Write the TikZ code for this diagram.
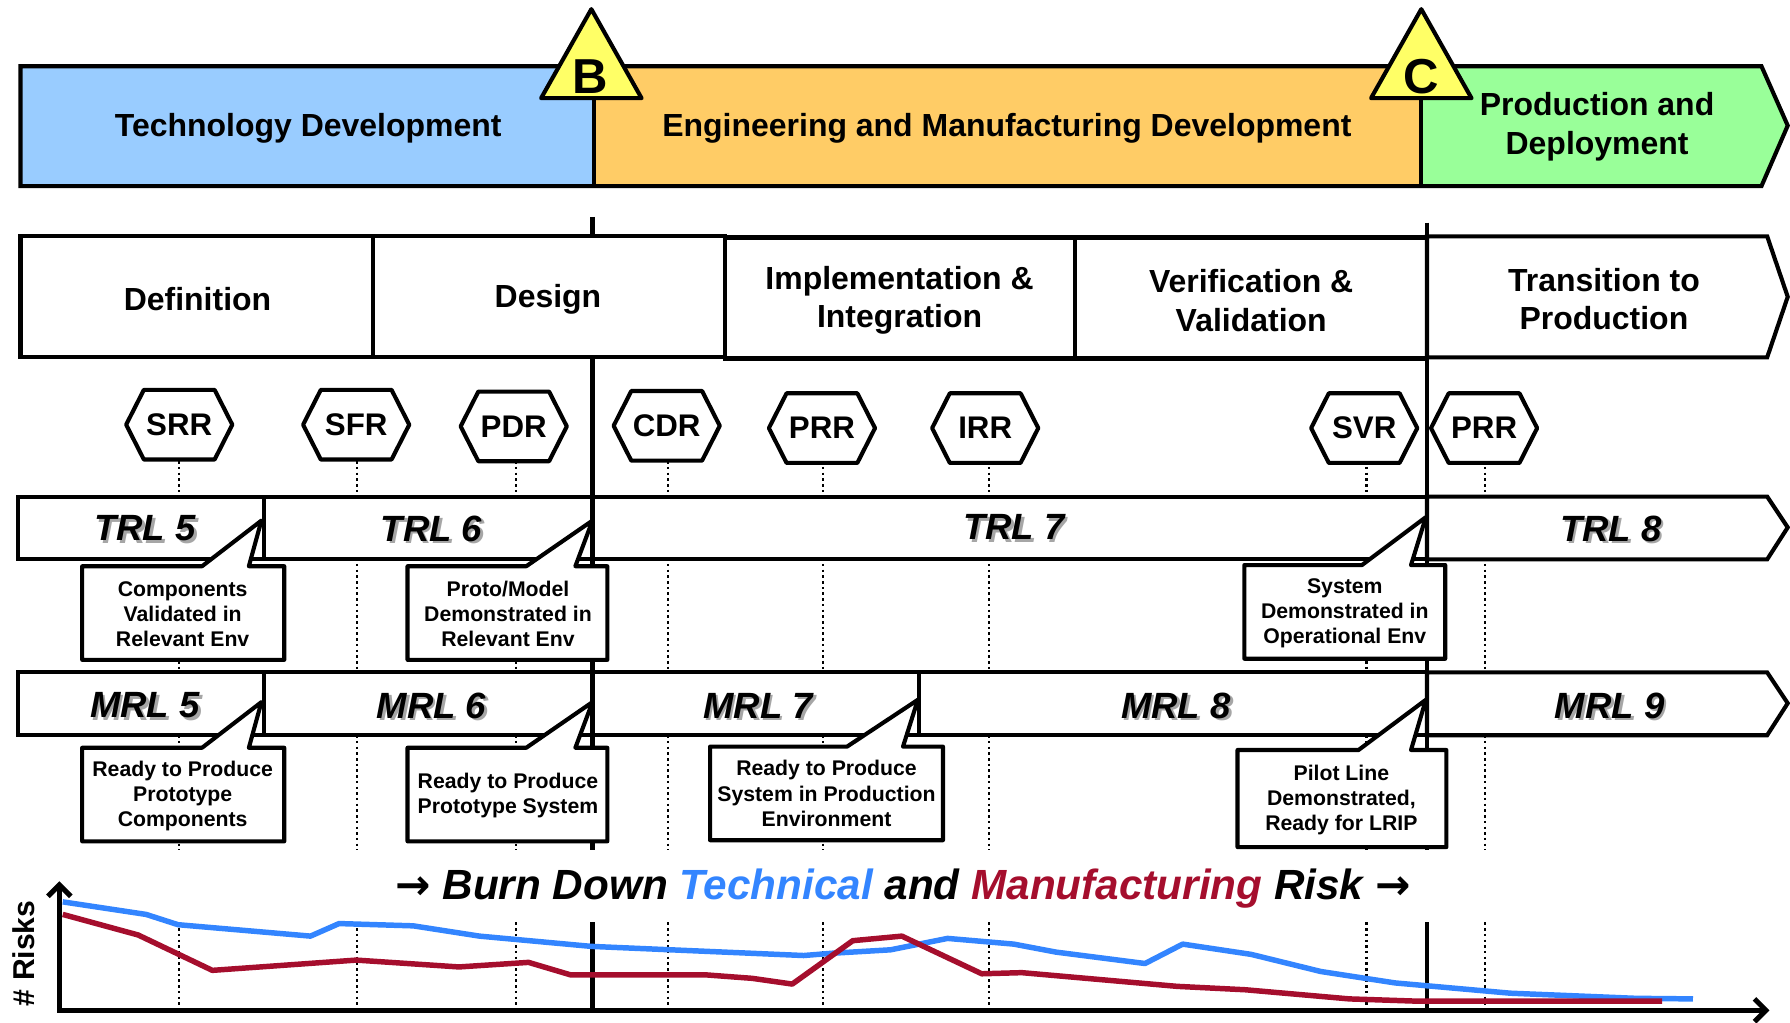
\documentclass[tikz,border=0pt]{standalone}
\usepackage{fontspec}
\setmainfont{Liberation Sans}
\newfontfamily\arrowfont{DejaVu Sans}
\usetikzlibrary{arrows.meta}
\definecolor{tdblue}{HTML}{99CCFF}
\definecolor{emdorange}{HTML}{FFCC66}
\definecolor{pdgreen}{HTML}{99FF99}
\definecolor{msyellow}{HTML}{FFFF66}
\definecolor{techblue}{HTML}{3385FF}
\definecolor{manred}{HTML}{A50E2D}
\newcommand{\hexnode}[4]{%
  \draw[hexa] ({#2-46.5},#3) -- ({#2-31},{#3-30.5}) -- ({#2+31},{#3-30.5}) -- ({#2+46.5},#3) -- ({#2+31},{#3+30.5}) -- ({#2-31},{#3+30.5}) -- cycle;
  \node[hexlabel] (#1) at (#2,#3) {#4};}
\newcommand{\calloutshape}[8]{%
  \draw[box,fill=white,line join=round] (#1,#2) -- (#5,#2) -- (#7,#8) -- (#6,#2) -- (#3,#2) -- (#3,#4) -- (#1,#4) -- cycle;}
\newcommand{\lvlabel}[4]{%
  \node[lvltext,text=black!35,xshift=1.2pt,yshift=-1.2pt] (#1s) at (#2,#3) {#4};
  \node[lvltext] (#1) at (#2,#3) {#4};}
\begin{document}
\begin{tikzpicture}[x=0.5pt,y=-0.5pt,
 box/.style={draw=black,line width=1.8pt},
 hexa/.style={draw=black,line width=1.8pt,fill=white,line join=round},
 bartext/.style={font=\bfseries\fontsize{14}{17}\selectfont,align=center,inner sep=0pt},
 hexlabel/.style={font=\bfseries\fontsize{13.7}{16}\selectfont,inner sep=0pt},
 lvltext/.style={font=\bfseries\itshape\fontsize{16}{19}\selectfont,inner sep=0pt},
 calltext/.style={font=\bfseries\fontsize{9.3}{11}\selectfont,align=center,inner sep=0pt},
 mslabel/.style={font=\bfseries\fontsize{21.5}{24}\selectfont,inner sep=0pt,anchor=base},
 dotline/.style={line width=0.9pt,dash pattern=on 1.1pt off 1.4pt},
 sepline/.style={line width=1.8pt},
 axis/.style={line width=2.2pt},
 techline/.style={techblue,line width=2.4pt,line join=round},
 manline/.style={manred,line width=2.4pt,line join=round},
 ]
\useasboundingbox (0,0) rectangle (1568,896);
% ---- top bar
\fill[tdblue] (18,58) rectangle (520,163);
\fill[emdorange] (520,58) rectangle (1245,163);
\fill[pdgreen] (1245,58) -- (1543,58) -- (1566,110) -- (1543,163) -- (1245,163) -- cycle;
\draw[box] (18,58) -- (1543,58) -- (1566,110) -- (1543,163) -- (18,163) -- cycle;
\draw[box] (520,58) -- (520,163);
\draw[box] (1245,58) -- (1245,163);
\draw[box,fill=msyellow,line join=round] (518,8) -- (562,86) -- (474,86) -- cycle;
\draw[box,fill=msyellow,line join=round] (1245,8) -- (1289,86) -- (1201,86) -- cycle;
\node[mslabel] (msb) at (517,82) {B};
\node[mslabel] (msc) at (1245,82) {C};
\node[bartext] (td) at (270,112) {Technology Development};
\node[bartext] (emd) at (882,112) {Engineering and Manufacturing Development};
\node[bartext] (pd) at (1399,111) {Production and\\Deployment};
% ---- dotted milestone lines
\foreach \x in {157,313,452,585,721,866,1197,1301}{
  \draw[dotline] (\x,404) -- (\x,745);
  \draw[dotline] (\x,808) -- (\x,885);}
% ---- thick separators
\draw[sepline] (519,190) -- (519,745);
\draw[sepline] (1250,195) -- (1250,745);
\draw[sepline] (519,808) -- (519,885);
\draw[sepline] (1250,808) -- (1250,885);
% ---- phases
\draw[box,fill=white] (18,207) rectangle (327,313);
\draw[box,fill=white] (327,207) rectangle (635,313);
\draw[box,fill=white] (635,208) rectangle (942,314);
\draw[box,fill=white] (942,208) rectangle (1250,314);
\draw[box,fill=white] (1250,207) -- (1548,207) -- (1566,260) -- (1548,313) -- (1250,313) -- cycle;
\node[bartext] (def) at (173,262) {Definition};
\node[bartext] (des) at (480,262) {Design};
\node[bartext] (imp) at (788,263) {Implementation \&\\Integration};
\node[bartext] (ver) at (1096,263) {Verification \&\\Validation};
\node[bartext] (trn) at (1405,262) {Transition to\\Production};
% ---- TRL row
\draw[box,fill=white] (16,435) rectangle (231,490);
\draw[box,fill=white] (231,435) rectangle (519,490);
\draw[box,fill=white] (519,435) rectangle (1250,490);
\draw[box,fill=white] (1250,435) -- (1548,435) -- (1566,462) -- (1548,490) -- (1250,490) -- cycle;
\lvlabel{trl5}{127}{463}{TRL 5}
\lvlabel{trl6}{378}{463}{TRL 6}
\lvlabel{trl7}{888}{462}{TRL 7}
\lvlabel{trl8}{1411}{463}{TRL 8}
% ---- MRL row
\draw[box,fill=white] (16,589) rectangle (231,644);
\draw[box,fill=white] (231,589) rectangle (519,644);
\draw[box,fill=white] (519,589) rectangle (805,644);
\draw[box,fill=white] (805,589) rectangle (1250,644);
\draw[box,fill=white] (1250,589) -- (1548,589) -- (1566,616) -- (1548,644) -- (1250,644) -- cycle;
\lvlabel{mrl5}{127}{618}{MRL 5}
\lvlabel{mrl6}{378}{618}{MRL 6}
\lvlabel{mrl7}{664}{618}{MRL 7}
\lvlabel{mrl8}{1030}{618}{MRL 8}
\lvlabel{mrl9}{1410}{618}{MRL 9}
% ---- callouts
\calloutshape{72}{496}{249}{578}{177}{218}{229}{456}
\calloutshape{357}{496}{532}{578}{461}{504}{519}{456}
\calloutshape{1090}{495}{1266}{577}{1193}{1236}{1249}{453}
\calloutshape{72}{655}{249}{737}{177}{218}{229}{615}
\calloutshape{357}{655}{532}{737}{461}{504}{519}{615}
\calloutshape{622}{654}{826}{736}{742}{791}{804}{613}
\calloutshape{1084}{657}{1267}{742}{1190}{1236}{1249}{613}
\node[calltext] (c1) at (160,538) {Components\\Validated in\\Relevant Env};
\node[calltext] (c2) at (445,538) {Proto/Model\\Demonstrated in\\Relevant Env};
\node[calltext] (c3) at (1178,537) {System\\Demonstrated in\\Operational Env};
\node[calltext] (c4) at (160,697) {Ready to Produce\\Prototype\\Components};
\node[calltext] (c5) at (445,697) {Ready to Produce\\Prototype System};
\node[calltext] (c6) at (724,695) {Ready to Produce\\System in Production\\Environment};
\node[calltext] (c7) at (1175,701) {Pilot Line\\Demonstrated,\\Ready for LRIP};
% ---- milestones
\hexnode{srr}{157}{372}{SRR}
\hexnode{sfr}{312}{372}{SFR}
\hexnode{pdr}{450}{373.5}{PDR}
\hexnode{cdr}{584}{373}{CDR}
\hexnode{prr}{720}{375}{PRR}
\hexnode{irr}{863}{375}{IRR}
\hexnode{svr}{1195}{375}{SVR}
\hexnode{prrb}{1300}{375}{PRR}
% ---- chart
\node[font=\bfseries\itshape\fontsize{18.5}{22}\selectfont,inner sep=0pt] (title) at (791,778)
  {{\arrowfont\char"2192}\ Burn Down \textcolor{techblue}{Technical} and \textcolor{manred}{Manufacturing} Risk {\arrowfont\char"2192}};
\node[font=\bfseries\fontsize{13.2}{15}\selectfont,rotate=90,inner sep=0pt] (risks) at (21,835) {\# Risks};
\draw[axis,{Straight Barb[length=5pt,width=10pt]}-{Straight Barb[length=5pt,width=10pt]}] (52,772) -- (52,885) -- (1550,885);
\draw[techline] (55,790) -- (128,801) -- (156,810) -- (272,820) -- (297,809) -- (362,811) -- (420,820) -- (518,829) -- (704,837) -- (729,835) -- (780,832) -- (830,822) -- (888,827) -- (925,834) -- (1003,844) -- (1036,827) -- (1096,836) -- (1157,851) -- (1222,861) -- (1323,870) -- (1433,874.5) -- (1483,875);
\draw[manline] (55,801) -- (121,819) -- (186,850) -- (312,841) -- (402,847) -- (463,843) -- (500,854) -- (619,854) -- (659,857) -- (694,862) -- (747,824) -- (790,820) -- (860,853) -- (895,852) -- (1031,864) -- (1091,867) -- (1182,875) -- (1242,877) -- (1456,877);
\end{tikzpicture}
\end{document}
